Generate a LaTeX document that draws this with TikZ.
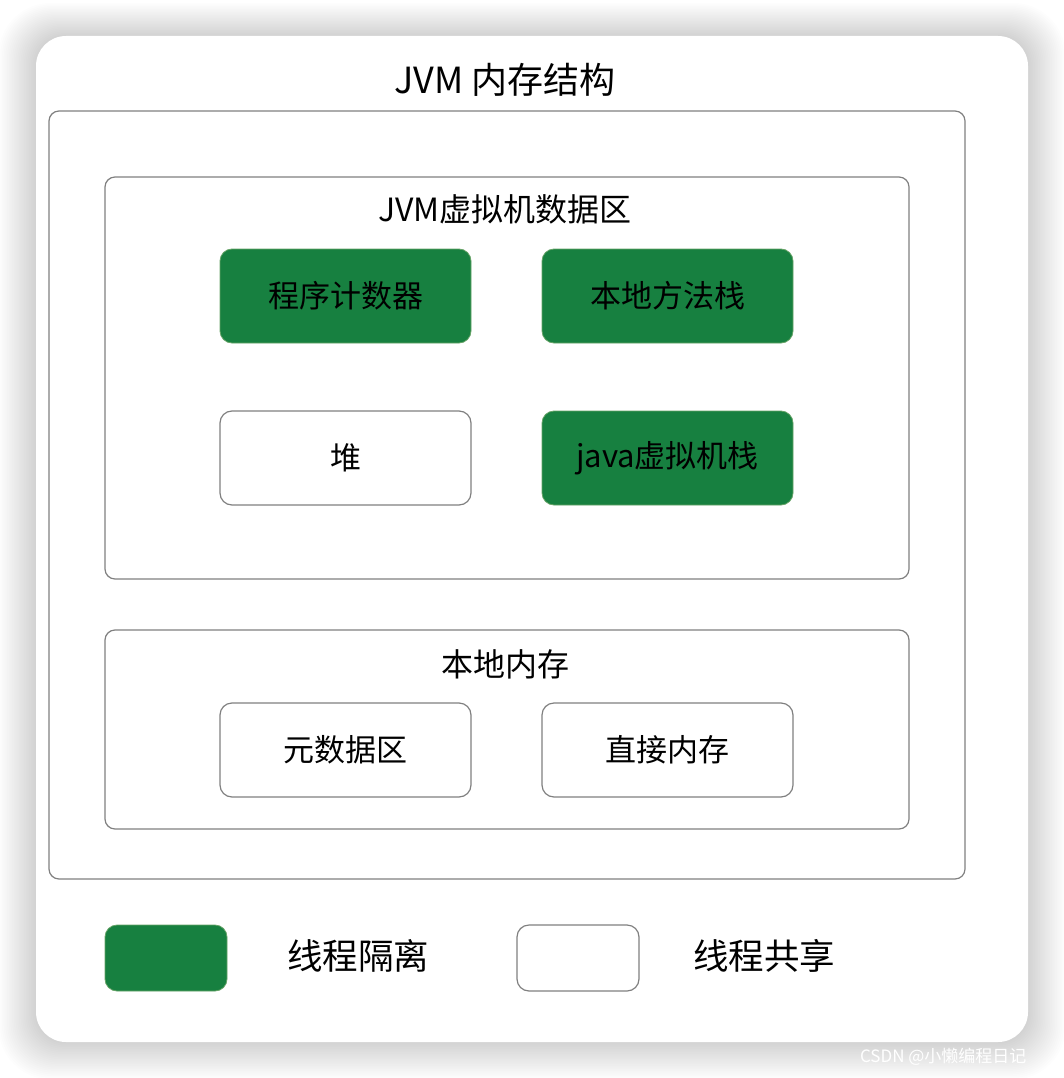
\documentclass[tikz,border=0pt]{standalone}
\usepackage{fontspec}
\setmainfont{Noto Sans CJK SC}
\begin{document}
\begin{tikzpicture}[x=1pt,y=-1pt,
  frame/.style={draw=black!50,line width=1.2pt,rounded corners=10pt,fill=white},
  gbox/.style={draw=green!40!black!60,line width=0.8pt,rounded corners=12pt,fill=jgreen,minimum width=251pt,minimum height=94pt,font=\fontsize{31}{34}\selectfont,text=black},
  wbox/.style={draw=black!50,line width=1.2pt,rounded corners=12pt,fill=white,minimum width=251pt,minimum height=94pt,font=\fontsize{31}{34}\selectfont,text=black},
  ttl/.style={font=\fontsize{32}{36}\selectfont,text=black}]
\definecolor{jgreen}{RGB}{23,128,64}
\useasboundingbox (0,0) rectangle (1064,1078);
\fill[white] (0,0) rectangle (1064,1078);
% shadow
\foreach \i in {1,...,22}{
  \fill[black,opacity=0.0065,rounded corners=30pt+\i pt] (36-\i*1.7,36-\i*1.5) rectangle (1028+\i*1.7,1042+\i*1.7);
}
\fill[white,rounded corners=30pt] (36,36) rectangle (1028,1042);
% watermark
\node[anchor=east,text=white,font=\fontsize{17}{19}\selectfont] (wm) at (1030,1057) {CSDN @小懒编程日记};
% outer frame
\node[ttl,font=\fontsize{36}{40}\selectfont] (title) at (505,80) {JVM 内存结构};
\draw[frame] (49,111) rectangle (965,879);
% data area
\draw[frame] (105,177) rectangle (909,579);
\node[ttl] (dt) at (505,209) {JVM虚拟机数据区};
\node[gbox] (pc) at (345.5,296) {程序计数器};
\node[gbox] (nms) at (667.5,296) {本地方法栈};
\node[wbox] (heap) at (345.5,458) {堆};
\node[gbox] (jvs) at (667.5,458) {java虚拟机栈};
% native memory
\draw[frame] (105,630) rectangle (909,829);
\node[ttl] (nm) at (505,664) {本地内存};
\node[wbox] (meta) at (345.5,750) {元数据区};
\node[wbox] (direct) at (667.5,750) {直接内存};
% legend
\node[gbox,minimum width=122pt,minimum height=66pt] (lg) at (166,958) {};
\node[ttl,font=\fontsize{35.5}{39}\selectfont] (lgt) at (358,956) {线程隔离};
\node[wbox,minimum width=122pt,minimum height=66pt] (lw) at (578,958) {};
\node[ttl,font=\fontsize{35.5}{39}\selectfont] (lwt) at (764,956) {线程共享};
\end{tikzpicture}
\end{document}
